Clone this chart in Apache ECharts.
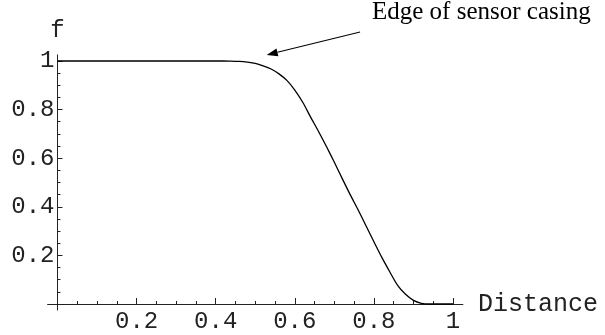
<!DOCTYPE html>
<html>
<head>
<meta charset="utf-8">
<script src="https://cdn.jsdelivr.net/npm/echarts@6/dist/echarts.min.js"></script>
<style>html,body{margin:0;padding:0;background:#fff}#c{width:605px;height:335px}</style>
</head>
<body>
<div id="c"></div>
<script>
// Data
var distance = [0, 0.1, 0.2, 0.3, 0.4, 0.42, 0.44, 0.46, 0.48, 0.50, 0.52, 0.54, 0.56, 0.58, 0.60, 0.62, 0.64, 0.66, 0.68, 0.70, 0.72, 0.74, 0.76, 0.78, 0.80, 0.82, 0.84, 0.86, 0.88, 0.90, 0.92, 0.94, 0.96, 0.98, 1.0];
var fValues = [1, 1, 1, 1, 1, 1.0, 0.999, 0.998, 0.995, 0.990, 0.980, 0.967, 0.947, 0.920, 0.880, 0.830, 0.769, 0.710, 0.648, 0.583, 0.516, 0.450, 0.388, 0.322, 0.256, 0.192, 0.133, 0.077, 0.040, 0.015, 0.003, 0, 0, 0, 0];
var xMajorTicks = [0.2, 0.4, 0.6, 0.8, 1];
var xMinorTicks = [0.05, 0.1, 0.15, 0.25, 0.3, 0.35, 0.45, 0.5, 0.55, 0.65, 0.7, 0.75, 0.85, 0.9, 0.95];
var yMajorTicks = [0.2, 0.4, 0.6, 0.8, 1];
var yMinorTicks = [0.05, 0.1, 0.15, 0.25, 0.3, 0.35, 0.45, 0.5, 0.55, 0.65, 0.7, 0.75, 0.85, 0.9, 0.95];
var annotationText = 'Edge of sensor casing';
var arrowFrom = [0.765, 1.119];
var arrowTo = [0.529, 1.025];

var pts = distance.map(function (d, i) { return [d, fValues[i]]; });
var mono = '"Liberation Mono", "DejaVu Sans Mono", monospace';
var axisColor = '#222';
var PAD = 0.025;
var gridBox = { left: 47.6, right: 142.1, top: 54.9, bottom: 24.9 };
var xScale = (605 - gridBox.left - gridBox.right) / (1 + 2 * PAD);
var yScale = (335 - gridBox.top - gridBox.bottom) / (1 + 2 * PAD);
var xShift = PAD * yScale; // distance from grid bottom to zero line
var yShift = PAD * xScale; // distance from grid left to zero line

function baseX(extra) {
  return Object.assign({
    type: 'value', min: -PAD, max: 1 + PAD, position: 'bottom',
    axisLine: { show: true, onZero: true, lineStyle: { color: axisColor, width: 1 } },
    splitLine: { show: false }
  }, extra);
}
function baseY(extra) {
  return Object.assign({
    type: 'value', min: -PAD, max: 1 + PAD, position: 'left',
    axisLine: { show: true, onZero: true, lineStyle: { color: axisColor, width: 1 } },
    splitLine: { show: false }
  }, extra);
}

var chart = echarts.init(document.getElementById('c'), null, { renderer: 'canvas' });
chart.setOption({
  animation: false,
  backgroundColor: '#fff',
  title: {
    text: annotationText, left: 372, top: 0, padding: 0,
    textStyle: { fontFamily: '"Liberation Serif", "Times New Roman", serif', fontWeight: 'normal', fontSize: 25, color: '#000' }
  },
  grid: { left: gridBox.left, right: gridBox.right, top: gridBox.top, bottom: gridBox.bottom, containLabel: false },
  xAxis: [
    baseX({
      name: 'Distance', nameLocation: 'end', nameGap: 15,
      nameTextStyle: { fontFamily: mono, fontSize: 25, color: '#222', verticalAlign: 'middle', align: 'left' },
      axisTick: { show: true, inside: true, length: 6, customValues: xMajorTicks, lineStyle: { color: axisColor } },
      axisLabel: { show: true, customValues: xMajorTicks, margin: -0.5, fontFamily: mono, fontSize: 24, color: '#222',
        formatter: function (v) { return String(+v.toFixed(2)); } }
    }),
    baseX({
      offset: -xShift,
      axisLine: { show: false, onZero: false },
      axisTick: { show: true, inside: true, length: 3, customValues: xMinorTicks, lineStyle: { color: axisColor } },
      axisLabel: { show: false }
    })
  ],
  yAxis: [
    baseY({
      name: 'f', nameLocation: 'end', nameGap: 12,
      nameTextStyle: { fontFamily: mono, fontSize: 24, color: '#222', align: 'center', verticalAlign: 'bottom' },
      axisTick: { show: true, inside: true, length: 5, customValues: yMajorTicks, lineStyle: { color: axisColor } },
      axisLabel: { show: true, customValues: yMajorTicks, margin: 3 - yShift, fontFamily: mono, fontSize: 24, color: '#222',
        formatter: function (v) { return String(+v.toFixed(2)); } }
    }),
    baseY({
      offset: -yShift,
      axisLine: { show: false, onZero: false },
      axisTick: { show: true, inside: true, length: 3, customValues: yMinorTicks, lineStyle: { color: axisColor } },
      axisLabel: { show: false }
    })
  ],
  series: [{
    type: 'line', data: pts, xAxisIndex: 0, yAxisIndex: 0,
    showSymbol: false, smooth: 0.3, clip: false,
    lineStyle: { color: '#000', width: 1.3 }
  }]
});

var p0 = chart.convertToPixel({ gridIndex: 0 }, arrowFrom);
var p1 = chart.convertToPixel({ gridIndex: 0 }, arrowTo);
var ang = Math.atan2(p1[1] - p0[1], p1[0] - p0[0]);
var hl = 11, hw = 4;
var bx = p1[0] - hl * Math.cos(ang), by = p1[1] - hl * Math.sin(ang);
var nx = -Math.sin(ang), ny = Math.cos(ang);
chart.setOption({
  graphic: [
    { type: 'line', shape: { x1: p0[0], y1: p0[1], x2: bx, y2: by }, style: { stroke: '#000', lineWidth: 1.1 } },
    { type: 'polygon', shape: { points: [[p1[0], p1[1]], [bx + nx * hw, by + ny * hw], [bx - nx * hw, by - ny * hw]] }, style: { fill: '#000' } }
  ]
});
</script>
</body>
</html>
